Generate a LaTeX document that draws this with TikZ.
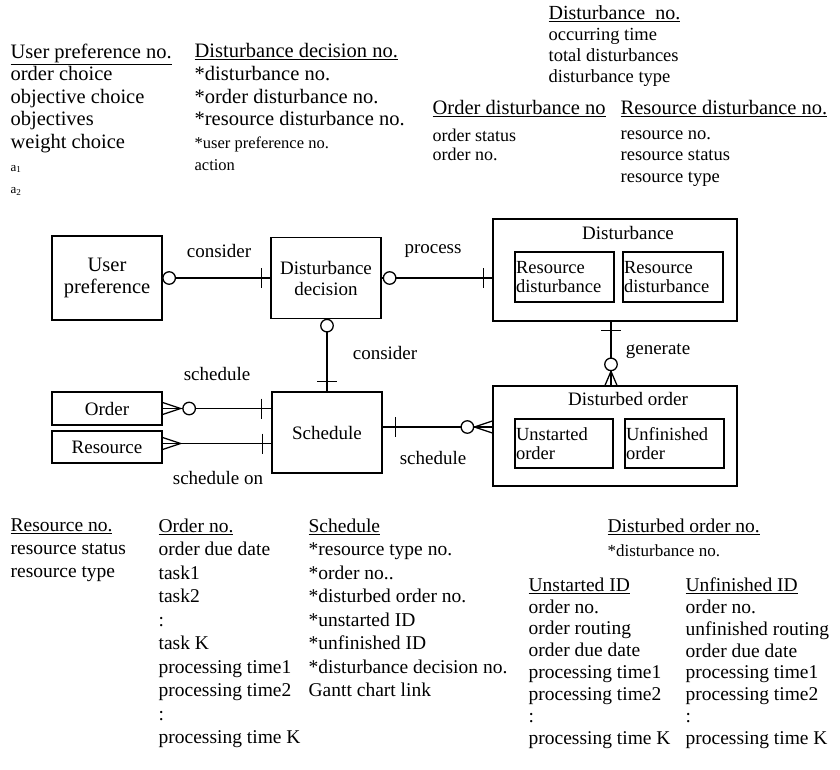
\documentclass[tikz,border=0pt]{standalone}
\usepackage{fontspec}
\setmainfont{Liberation Serif}
\usetikzlibrary{calc}
\newcommand\myfs[2]{\fontsize{#1}{#2}\selectfont}
\begin{document}
\begin{tikzpicture}[x=1pt,y=-1pt,line width=1.3pt,
 attr/.style={anchor=north west,inner sep=0pt,align=left},
 ent/.style={draw,inner sep=0pt,align=center,font=\myfs{19}{21}},
 sub/.style={draw,inner sep=1pt,align=left,font=\myfs{18.5}{19}},
 lbl/.style={inner sep=0pt,font=\myfs{19}{21}},
 ring/.style={draw,fill=white,circle,inner sep=0pt,minimum size=12.5pt}]
\useasboundingbox (0,0) rectangle (840,769);

% ---------- entities ----------
\node[ent,font=\myfs{20.5}{22},minimum width=110pt,minimum height=84pt] (up) at (107,278) {User\\preference};
\node[ent,minimum width=110pt,minimum height=81pt] (dd) at (326,278) {Disturbance\\decision};
\node[ent,minimum width=110pt,minimum height=81pt] (sch) at (327,432.5) {Schedule};
\node[ent,minimum width=110pt,minimum height=33pt] (ord) at (107,408.5) {Order};
\node[ent,minimum width=110pt,minimum height=32pt] (res) at (107,447) {Resource};

\node[draw,inner sep=0pt,minimum width=244pt,minimum height=102pt] (dist) at (615,270) {};
\node[lbl] (distt) at (628,233) {Disturbance};
\node[sub,text width=97pt,minimum height=50pt] (rd1) at (564.5,277) {Resource\\disturbance};
\node[sub,text width=98pt,minimum height=50pt] (rd2) at (673,277) {Resource\\disturbance};

\node[draw,inner sep=0pt,minimum width=244pt,minimum height=100pt] (dor) at (615,436) {};
\node[lbl] (dort) at (628,399) {Disturbed order};
\node[sub,text width=96pt,minimum height=49pt] (uo) at (564,443.5) {Unstarted\\order};
\node[sub,text width=97pt,minimum height=49pt] (fo) at (674.5,443.5) {Unfinished\\order};

% ---------- connectors ----------
% user preference -- disturbance decision
\draw (up.east) -- (dd.west);
\draw ($(dd.west)+(-9,-10)$) -- ++(0,20);
\node[ring] (r1) at ($(up.east)+(6.5,0)$) {};
% disturbance decision -- disturbance
\draw (dd.east) -- (dd.east -| dist.west);
\draw ($(dd.east -| dist.west)+(-9,-10)$) -- ++(0,20);
\node[ring] (r2) at ($(dd.east)+(8,0)$) {};
% disturbance decision -- schedule
\draw (sch.north |- dd.south) -- (sch.north);
\node[ring] (r3) at ($(sch.north |- dd.south)+(0,6.5)$) {};
\draw ($(sch.north)+(-10,-10)$) -- ++(20,0);
% disturbance -- disturbed order
\draw ($(dist.south)+(-4,0)$) -- ($(dor.north)+(-4,0)$);
\draw ($(dist.south)+(-14,9)$) -- ++(20,0);
\draw ($(dor.north)+(-10,0)$) -- ($(dor.north)+(-4,-14)$) -- ($(dor.north)+(2,0)$);
\node[ring] (r4) at ($(dor.north)+(-4,-21)$) {};
% order -- schedule
\draw (ord.east) -- (ord.east -| sch.west);
\draw ($(ord.east)+(0,-6)$) -- ($(ord.east)+(18,0)$) -- ($(ord.east)+(0,6)$);
\node[ring] (r5) at ($(ord.east)+(26.5,0)$) {};
\draw ($(ord.east -| sch.west)+(-10,-10)$) -- ++(0,20);
% resource -- schedule
\draw ($(res.east)+(0,-3.5)$) -- ($(res.east -| sch.west)+(0,-3.5)$);
\draw ($(res.east)+(0,-9.5)$) -- ($(res.east)+(18,-3.5)$) -- ($(res.east)+(0,2.5)$);
\draw ($(res.east -| sch.west)+(-9,-13.5)$) -- ++(0,20);
% schedule -- disturbed order
\draw ($(sch.east)+(0,-5.5)$) -- ($(sch.east -| dor.west)+(0,-5.5)$);
\draw ($(sch.east)+(13,-15.5)$) -- ++(0,20);
\draw ($(sch.east -| dor.west)+(0,-11.5)$) -- ($(sch.east -| dor.west)+(-18,-5.5)$) -- ($(sch.east -| dor.west)+(0,0.5)$);
\node[ring] (r6) at ($(sch.east -| dor.west)+(-25,-5.5)$) {};

% ---------- relationship labels ----------
\node[lbl] (l1) at (219,251) {consider};
\node[lbl] (l2) at (433,251) {process};
\node[lbl] (l3) at (385,353) {consider};
\node[lbl] (l4) at (217,374) {schedule};
\node[lbl] (l5) at (218,478) {schedule on};
\node[lbl] (l6) at (433,458) {schedule};
\node[lbl] (l7) at (658,351) {generate};

% ---------- attribute lists (top) ----------
\node[attr,font=\myfs{20.5}{22.6}] (upa) at (10,43) {\underline{User preference no.}\\order choice\\objective choice\\objectives\\weight choice\\{\myfs{13}{22.6}a\textsubscript{1}}\\{\myfs{13}{22.6}a\textsubscript{2}}};
\node[attr,font=\myfs{20.5}{22.6}] (dda) at (194,43) {\underline{Disturbance decision no.}\\*disturbance no.\\*order disturbance no.\\*resource disturbance no.\\{\myfs{16.5}{22.6}*user preference no.}\\{\myfs{16.5}{22.6}action}};
\node[attr,font=\myfs{18.5}{21}] (dna) at (548,5) {{\myfs{20}{21}\underline{Disturbance\ \ no.}}\\occurring time\\total disturbances\\disturbance type};
\node[attr,font=\myfs{18}{19}] (oda) at (432,100) {{\myfs{20.5}{21}\underline{Order disturbance no}}\\[8pt]order status\\order no.};
\node[attr,font=\myfs{18.5}{21.5}] (rda) at (620,100) {{\myfs{20.5}{21}\underline{Resource disturbance no.}}\\[3pt]resource no.\\resource status\\resource type};

% ---------- attribute lists (bottom) ----------
\node[attr,font=\myfs{19.5}{23}] (rna) at (10,518) {\underline{Resource no.}\\resource status\\resource type};
\node[attr,font=\myfs{19.5}{23.5}] (ona) at (158,518) {\underline{Order no.}\\order due date\\task1\\task2\\:\\task K\\processing time1\\processing time2\\:\\processing time K};
\node[attr,font=\myfs{19.5}{23.5}] (sca) at (308,518) {\underline{Schedule}\\*resource type no.\\*order no..\\*disturbed order no.\\*unstarted ID\\*unfinished ID\\*disturbance decision no.\\Gantt chart link};
\node[attr,font=\myfs{17}{24}] (doa) at (607,518) {{\myfs{19.5}{21}\underline{Disturbed order no.}}\\*disturbance no.};
\node[attr,font=\myfs{19.5}{21.9}] (usa) at (528,577) {\underline{Unstarted ID}\\order no.\\order routing\\order due date\\processing time1\\processing time2\\:\\processing time K};
\node[attr,font=\myfs{19.5}{21.9}] (ufa) at (685,577) {\underline{Unfinished ID}\\order no.\\unfinished routing\\order due date\\processing time1\\processing time2\\:\\processing time K};
\end{tikzpicture}
\end{document}
